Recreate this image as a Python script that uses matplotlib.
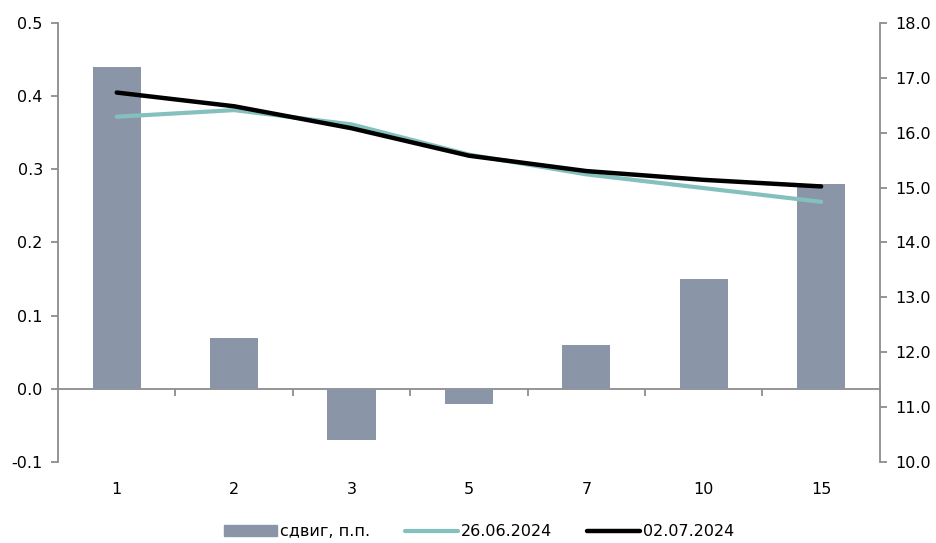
import numpy as np
import matplotlib
matplotlib.use("Agg")
import matplotlib.pyplot as plt
from matplotlib.patches import Patch
from matplotlib.lines import Line2D

plt.rcParams['font.family'] = ['DejaVu Sans']
plt.rcParams['font.size'] = 11.5

# data
terms = ['1', '2', '3', '5', '7', '10', '15']
shift = [0.44, 0.07, -0.07, -0.02, 0.06, 0.15, 0.28]
curve_0626 = [16.29, 16.41, 16.15, 15.60, 15.24, 14.99, 14.74]
curve_0702 = [16.73, 16.48, 16.08, 15.58, 15.30, 15.14, 15.02]

bar_color = '#8A96A8'
teal = '#84C0BE'
spine_color = '#8C8C8C'

fig = plt.figure(figsize=(9.36, 5.43), dpi=100)
ax = fig.add_axes([0.062, 0.149, 0.878, 0.809])
ax2 = ax.twinx()

x = np.arange(len(terms))
ax.bar(x, shift, width=0.41, color=bar_color, zorder=2)
ax.set_ylim(-0.1, 0.5)
ax.set_yticks(np.arange(-0.1, 0.51, 0.1))
ax.set_yticklabels(['{:.1f}'.format(v) for v in np.arange(-0.1, 0.51, 0.1)])
ax.set_xlim(-0.5, len(terms) - 0.5)

ax2.plot(x, curve_0626, color=teal, lw=3.0, solid_capstyle='round', zorder=3)
ax2.plot(x, curve_0702, color='black', lw=3.2, solid_capstyle='round', zorder=4)
ax2.set_ylim(10, 18)
ax2.set_yticks(np.arange(10, 18.1, 1))
ax2.set_yticklabels(['{:.1f}'.format(v) for v in np.arange(10, 18.1, 1)])

# category labels at the bottom, no ticks
ax.set_xticks(x)
ax.set_xticklabels(terms)
ax.tick_params(axis='x', length=0, pad=14)

for a in (ax, ax2):
    a.spines['top'].set_visible(False)
    a.spines['bottom'].set_visible(False)
    for s in ('left', 'right'):
        a.spines[s].set_color(spine_color)
        a.spines[s].set_linewidth(1.3)
ax.spines['right'].set_visible(False)
ax2.spines['left'].set_visible(False)
ax.tick_params(axis='y', length=5, width=1.3, color=spine_color, pad=6)
ax2.tick_params(axis='y', length=5, width=1.3, color=spine_color, pad=6)

# zero line with separators between categories
y0, y1 = ax.get_ylim()
zero_frac = (0 - y0) / (y1 - y0)
sec = ax.secondary_xaxis(zero_frac)
sec.set_xticks(x[:-1] + 0.5)
sec.set_xticklabels([])
sec.tick_params(axis='x', direction='out', length=5, width=1.3, color=spine_color)
sec.spines['bottom'].set_color(spine_color)
sec.spines['bottom'].set_linewidth(1.3)

handles = [Patch(color=bar_color),
           Line2D([], [], color=teal, lw=3.0, solid_capstyle='round'),
           Line2D([], [], color='black', lw=3.2, solid_capstyle='round')]
fig.legend(handles, ['сдвиг, п.п.', '26.06.2024', '02.07.2024'],
           loc='lower center', bbox_to_anchor=(0.512, -0.02), ncol=3,
           frameon=False, handlelength=3.3, handletextpad=0.2,
           columnspacing=2.2, fontsize=11.5)

fig.savefig('out.png', dpi=100)
